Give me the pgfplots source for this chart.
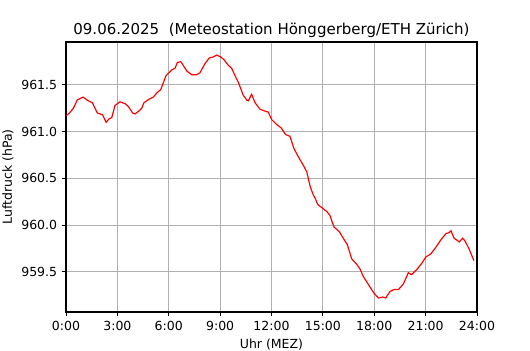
\documentclass[border=0pt]{standalone}
\usepackage{fontspec}
\setmainfont{DejaVu Sans}
\usepackage{pgfplots}
\pgfplotsset{compat=1.18}
\begin{document}
\fontsize{9pt}{11pt}\selectfont
\begin{tikzpicture}[x=0.72pt,y=0.72pt]
\path[use as bounding box] (-66,-38) rectangle (464,312);
\begin{axis}[
  at={(0,0)}, anchor=south west,
  width=295.92pt, height=194.4pt, scale only axis,
  xmin=0, xmax=24, ymin=959.07, ymax=961.96,
  xtick={0,3,6,9,12,15,18,21,24},
  xticklabels={0:00,3:00,6:00,9:00,12:00,15:00,18:00,21:00,24:00},
  ytick={959.5,960,960.5,961,961.5},
  yticklabel style={/pgf/number format/.cd,fixed,fixed zerofill,precision=1},
  /pgf/number format/assume math mode=true,
  xtick pos=bottom, ytick pos=left,
  tick align=outside,
  major tick length=3.2pt,
  every tick/.style={black, line width=0.7pt},
  axis line style={line width=0.75pt},
  grid=major,
  major grid style={color=black!31, line width=0.75pt},
  tick label style={font=\fontsize{9pt}{11pt}\selectfont},
  xlabel={Uhr (MEZ)}, ylabel={Luftdruck (hPa)},
  label style={font=\fontsize{9pt}{11pt}\selectfont},
  xlabel style={at={(axis description cs:0.5,-0.122)}, anchor=center},
  ylabel style={at={(axis description cs:-0.141,0.5)}, anchor=center},
  title={09.06.2025\ \ (Meteostation Hönggerberg/ETH Zürich)},
  title style={font=\fontsize{10.8pt}{13pt}\selectfont, at={(axis description cs:0.5,1.013)}, anchor=center},
]
\addplot[red, line width=0.85pt, mark=none] coordinates {
(0.0,961.17) (0.2,961.20) (0.43,961.25) (0.66,961.34) (1.0,961.37) (1.3,961.33)
(1.54,961.31) (1.83,961.20) (2.14,961.18) (2.34,961.10) (2.53,961.14) (2.67,961.15)
(2.86,961.28) (3.15,961.32) (3.45,961.30) (3.64,961.27) (3.89,961.20) (4.03,961.19)
(4.25,961.22) (4.42,961.25) (4.55,961.31) (4.87,961.35) (5.10,961.37) (5.33,961.42)
(5.53,961.45) (5.84,961.60) (6.17,961.66) (6.37,961.68) (6.50,961.74) (6.70,961.75)
(6.81,961.72) (7.05,961.65) (7.34,961.61) (7.63,961.61) (7.82,961.63) (8.12,961.73)
(8.37,961.79) (8.60,961.80) (8.80,961.82) (9.03,961.80) (9.23,961.77) (9.48,961.71)
(9.67,961.68) (9.87,961.60) (10.06,961.53) (10.35,961.39) (10.55,961.34) (10.65,961.33)
(10.70,961.35) (10.84,961.40) (11.04,961.31) (11.33,961.24) (11.62,961.22) (11.81,961.21)
(12.01,961.13) (12.28,961.08) (12.57,961.04) (12.82,960.97) (13.08,960.95) (13.31,960.82)
(13.57,960.73) (13.86,960.64) (14.06,960.57) (14.25,960.42) (14.40,960.34) (14.54,960.29)
(14.70,960.22) (14.99,960.18) (15.26,960.14) (15.42,960.10) (15.51,960.05) (15.65,959.98)
(15.96,959.93) (16.29,959.83) (16.43,959.79) (16.68,959.64) (16.98,959.58) (17.17,959.53)
(17.36,959.45) (17.71,959.35) (17.99,959.27) (18.24,959.22) (18.49,959.23) (18.67,959.22)
(18.92,959.29) (19.15,959.31) (19.41,959.31) (19.70,959.37) (19.99,959.49) (20.18,959.47)
(20.51,959.53) (20.77,959.59) (21.02,959.66) (21.29,959.69) (21.55,959.75) (21.88,959.84)
(22.19,959.91) (22.38,959.92) (22.48,959.94) (22.66,959.86) (22.97,959.82) (23.16,959.86)
(23.30,959.83) (23.55,959.74) (23.82,959.62)
};
\end{axis}
\end{tikzpicture}
\end{document}
